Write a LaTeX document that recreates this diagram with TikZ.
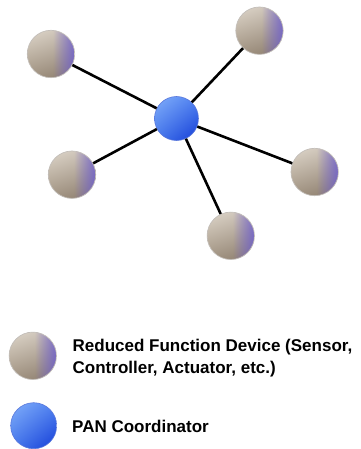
\documentclass[tikz,border=0pt]{standalone}
\usepackage{fontspec}
\setmainfont{Liberation Sans}
\usetikzlibrary{fadings,shadings}
\definecolor{bgUL}{RGB}{222,214,202}
\definecolor{bgUR}{RGB}{200,190,178}
\definecolor{bgLL}{RGB}{160,146,128}
\definecolor{bgLR}{RGB}{140,125,110}
\definecolor{purp}{RGB}{110,95,205}
\definecolor{rim}{RGB}{195,190,185}
\definecolor{blUL}{RGB}{130,175,250}
\definecolor{blUR}{RGB}{80,130,240}
\definecolor{blLL}{RGB}{70,120,235}
\definecolor{blLR}{RGB}{20,60,215}
\definecolor{blrim}{RGB}{90,120,220}
\tikzfading[name=fadeinright, left color=transparent!100, right color=transparent!0]
\tikzset{
  rfd/.style={circle, minimum size=47.4pt, inner sep=0pt, draw=rim, line width=0.7pt,
    path picture={
      \shade[upper left=bgUL, upper right=bgUR, lower left=bgLL, lower right=bgLR]
        (path picture bounding box.south west) rectangle (path picture bounding box.north east);
      \fill[purp, fill opacity=0.85, path fading=fadeinright]
        ([xshift=2pt]path picture bounding box.south) rectangle (path picture bounding box.north east);
    }},
  pan/.style={circle, minimum size=44pt, inner sep=0pt, draw=blrim, line width=0.6pt,
    path picture={
      \shade[upper left=blUL, upper right=blUR, lower left=blLL, lower right=blLR]
        (path picture bounding box.south west) rectangle (path picture bounding box.north east);
    }},
  link/.style={line width=2.6pt, black},
  lbl/.style={anchor=base west, inner sep=0pt, font=\fontsize{17}{20}\selectfont\bfseries}
}
\begin{document}
\begin{tikzpicture}[x=1pt,y=-1pt]
\useasboundingbox (0,0) rectangle (360,449);
% network
\node[pan] (pan) at (176.5,118.5) {};
\node[rfd] (d1) at (51,54) {};
\node[rfd] (d2) at (259.5,30.7) {};
\node[rfd] (d3) at (72,174.7) {};
\node[rfd] (d4) at (314.7,172) {};
\node[rfd] (d5) at (230.8,235.8) {};
\foreach \d in {d1,d2,d3,d4,d5} \draw[link] (pan) -- (\d);
% legend
\node[rfd] (lg1) at (32.8,355.8) {};
\node[pan, minimum size=46pt] (lg2) at (33.7,425.7) {};
\node[lbl] (t1) at (72.5,351) {Reduced Function Device (Sensor,};
\node[lbl] (t2) at (72.5,373.3) {Controller, Actuator, etc.)};
\node[lbl] (t3) at (72,432.3) {PAN Coordinator};
\end{tikzpicture}
\end{document}
